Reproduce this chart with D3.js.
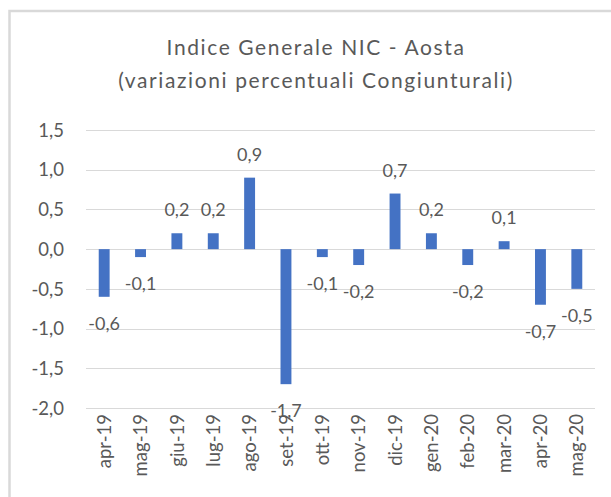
<!DOCTYPE html>
<html>
<head>
<meta charset="utf-8">
<script src="https://cdn.jsdelivr.net/npm/d3@7"></script>
<style>
  body { margin: 0; background: #fff; }
  svg text { font-family: Lato, "Open Sans", sans-serif; fill: #595959; }
</style>
</head>
<body>
<svg id="chart" width="611" height="497"></svg>
<script>
const months = ['apr-19', 'mag-19', 'giu-19', 'lug-19', 'ago-19', 'set-19', 'ott-19',
                'nov-19', 'dic-19', 'gen-20', 'feb-20', 'mar-20', 'apr-20', 'mag-20'];
const values = [-0.6, -0.1, 0.2, 0.2, 0.9, -1.7, -0.1, -0.2, 0.7, 0.2, -0.2, 0.1, -0.7, -0.5];
const yTicks = [1.5, 1.0, 0.5, 0.0, -0.5, -1.0, -1.5, -2.0];
const titleLines = ['Indice Generale NIC - Aosta', '(variazioni percentuali Congiunturali)'];

const svg = d3.select('#chart');
const fmt = (v) => d3.format('.1f')(v).replace('.', ',').replace('−', '-');

// chart area border (runs off the right and bottom of the picture)
svg.append('rect')
    .attr('x', 9.5).attr('y', 11)
    .attr('width', 700).attr('height', 600)
    .attr('fill', 'none')
    .attr('stroke', '#d9d9d9')
    .attr('stroke-width', 2.5);

let x = d3.scaleBand()
            .domain(months)
            .range([86, 595])
            .paddingInner(0.7)
            .paddingOuter(0.35);

let y = d3.scaleLinear()
            .domain([-2, 1.5])
            .range([408, 130]);

// title
svg.append('g').selectAll('text')
    .data(titleLines)
    .enter()
    .append('text')
    .attr('x', 316)
    .attr('y', (d, i) => 55 + i * 33)
    .attr('text-anchor', 'middle')
    .style('font-size', '21px')
    .style('letter-spacing', '1.6px')
    .text((d) => d);

// gridlines
svg.append('g').selectAll('line')
    .data(yTicks)
    .enter()
    .append('line')
    .attr('x1', 86).attr('x2', 595)
    .attr('y1', (d) => Math.round(y(d)) + 0.5)
    .attr('y2', (d) => Math.round(y(d)) + 0.5)
    .attr('stroke', '#d9d9d9')
    .attr('stroke-width', 1);

// y tick labels
svg.append('g').selectAll('text')
    .data(yTicks)
    .enter()
    .append('text')
    .attr('x', 64)
    .attr('y', (d) => y(d))
    .attr('dy', '0.36em')
    .attr('text-anchor', 'end')
    .style('font-size', '18.5px')
    .text((d) => fmt(d));

// bars
svg.append('g').selectAll('rect')
    .data(values)
    .enter()
    .append('rect')
    .attr('x', (d, i) => x(months[i]))
    .attr('width', x.bandwidth())
    .attr('y', (d) => y(Math.max(0, d)))
    .attr('height', (d) => Math.abs(y(d) - y(0)))
    .attr('fill', '#4472c4');

// data labels, outside end
svg.append('g').selectAll('text')
    .data(values)
    .enter()
    .append('text')
    .attr('x', (d, i) => x(months[i]) + x.bandwidth() / 2)
    .attr('y', (d) => d >= 0 ? y(d) - 17 : y(d) + 33)
    .attr('text-anchor', 'middle')
    .style('font-size', '18px')
    .text((d) => fmt(d));

// category labels, rotated
svg.append('g').selectAll('text')
    .data(months)
    .enter()
    .append('text')
    .attr('transform', (m) => 'translate(' + (x(m) + x.bandwidth() / 2) + ',414) rotate(-90)')
    .attr('dy', '0.36em')
    .attr('text-anchor', 'end')
    .style('font-size', '18.5px')
    .text((m) => m);
</script>
</body>
</html>
